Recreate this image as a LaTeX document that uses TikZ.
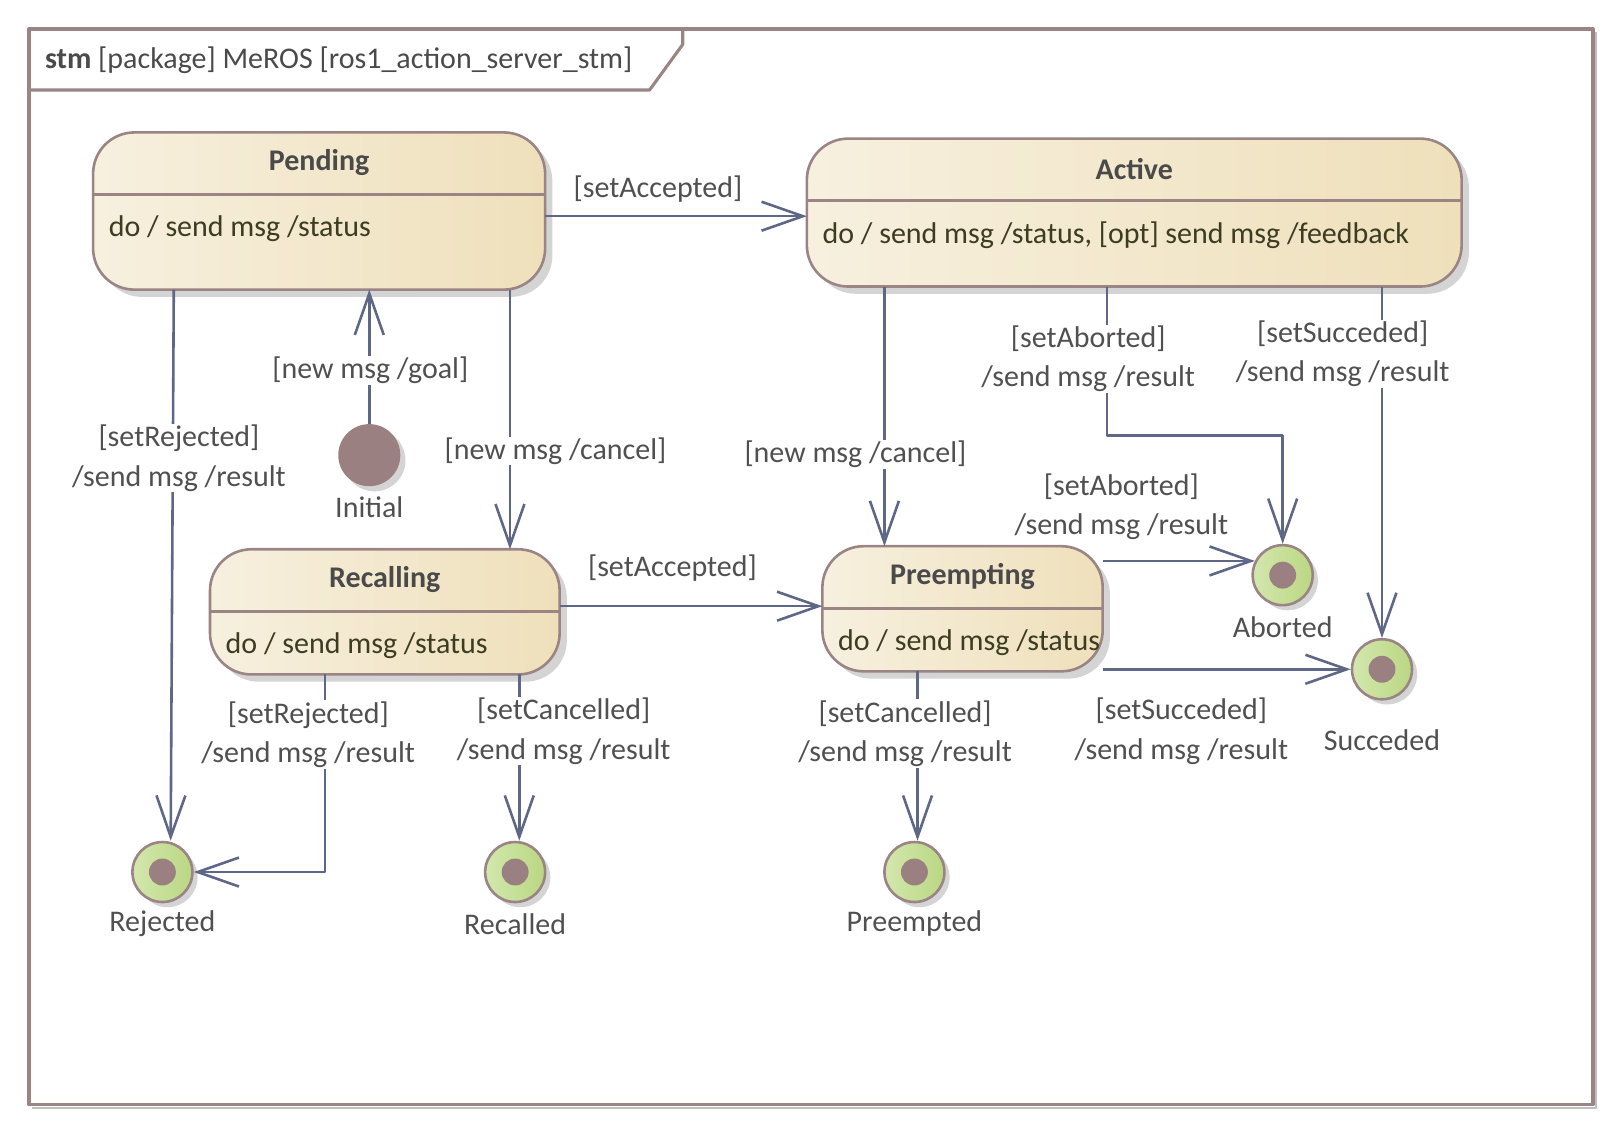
\documentclass[tikz,border=0pt]{standalone}
\usepackage{fontspec}
\setmainfont{Carlito}
\usetikzlibrary{arrows.meta,shadows}

\definecolor{stmline}{HTML}{9A8484}
\definecolor{stmflow}{HTML}{5E6785}
\definecolor{stateL}{HTML}{F7F0DF}
\definecolor{stateR}{HTML}{EFE0BB}
\definecolor{finL}{HTML}{D3E7AE}
\definecolor{finR}{HTML}{BAD782}
\definecolor{stmdot}{HTML}{9A8080}
\definecolor{stmtxt}{HTML}{505050}
\definecolor{stmtitle}{HTML}{4A4A4A}
\definecolor{stmact}{HTML}{3C3C22}

\tikzset{
  flow/.style={draw=stmflow, line width=2.5pt, -{Straight Barb[length=40pt,width=28pt]}},
  statebox/.style={rectangle, rounded corners=40pt, draw=stmline, line width=2.5pt,
    left color=stateL, right color=stateR, outer sep=0pt,
    drop shadow={shadow xshift=7pt,shadow yshift=-7pt,fill=black!17,opacity=1}},
  divider/.style={draw=stmline, line width=2.5pt},
  stitle/.style={text=stmtitle, font=\fontsize{29}{38}\selectfont\bfseries},
  sact/.style={text=stmact, inner sep=0pt},
  lbl/.style={fill=white, inner sep=1pt, align=center, text=stmtxt},
  final/.style={circle, minimum size=58pt, inner sep=0pt, draw=stmline, line width=2.5pt,
    left color=finL, right color=finR,
    drop shadow={shadow xshift=5pt,shadow yshift=-5pt,fill=black!17,opacity=1}},
  startdot/.style={circle, minimum size=60pt, inner sep=0pt, fill=stmdot,
    drop shadow={shadow xshift=5pt,shadow yshift=-5pt,fill=black!17,opacity=1}},
  fname/.style={text=stmtxt},
  frame/.style={draw=stmline, line width=3pt}
}

% name, position, width, height, title, activity
\newcommand{\mstate}[6]{%
  \node[statebox, minimum width=#3pt, minimum height=#4pt] (#1) at (#2) {};
  \draw[divider] ([yshift=-60pt]#1.north west) -- ([yshift=-60pt]#1.north east);
  \node[stitle] (#1-t) at ([yshift=-29pt]#1.north) {#5};
  \node[sact, anchor=west] (#1-a) at ([xshift=15pt,yshift=-93pt]#1.north west) {#6};
}

\begin{document}
\begin{tikzpicture}[x=1pt,y=-1pt,font=\fontsize{29}{38}\selectfont,line join=round]
\useasboundingbox (0,0) rectangle (1569,1096);
\draw[black!25, line width=2pt] (1543,31) -- (1543,1071) -- (31,1071);
\draw[frame] (28,28) rectangle (1540,1068);
\draw[frame] (28,87) -- (628,87) -- (660,43) -- (660,28);
\node[anchor=west, text=stmtitle] (hdr) at (40,58) {\textbf{stm} [package] MeROS [ros1\_action\_server\_stm]};

\mstate{pending}{308.5,204}{437}{152}{Pending}{do / send msg /status}
\mstate{active}{1096.5,205.5}{633}{143}{Active}{do / send msg /status, [opt] send msg /feedback}
\mstate{recalling}{372,591.5}{338}{121}{Recalling}{do / send msg /status}
\mstate{preempting}{930.5,588.5}{271}{121}{Preempting}{do / send msg /status}

\node[startdot] (init) at (357,440) {};
\node[fname] (init-l) at (357,490) {Initial};
\foreach \n/\x/\y/\t/\d in {rej/157/843/Rejected/50, recd/498/843/Recalled/50,
    preed/884/843/Preempted/50, abo/1240/556/Aborted/50, suc/1336/647/Succeded/69}{
  \node[final] (\n) at (\x,\y) {};
  \fill[stmdot] (\n) circle (13pt);
  \node[fname] (\n-l) at ([yshift=-\d*1pt]\n) {\t};
}

\draw[flow] (pending.east |- 0,209) -- (active.west |- 0,209);
\draw[flow] (init) -- (init |- pending.south);
\draw[flow] (pending.south -| 168,0) -- (rej.north -| 165,0);
\draw[flow] (pending.south -| 493,0) -- (recalling.north -| 493,0);
\draw[flow] (recalling.east |- 0,586) -- (preempting.west |- 0,586);
\draw[flow] (recalling.south -| 314,0) |- (rej);
\draw[flow] (recalling.south -| 502,0) -- (recd.north -| 502,0);
\draw[flow] (active.south -| 855,0) -- (preempting.north -| 855,0);
\draw[flow] (active.south -| 1070,0) -- (1070,421) -| (abo);
\draw[flow] (active.south -| suc.north) -- (suc.north);
\draw[flow] (preempting.east |- abo.153) -- (abo.153);
\draw[flow] (preempting.east |- suc.west) -- (suc.west);
\draw[flow] (preempting.south -| 887,0) -- (preed.north -| 887,0);

\node[lbl] (l-acc1) at (636,183) {[setAccepted]};
\node[lbl] (l-goal) at (358,358) {[new msg /goal]};
\node[lbl] (l-rej1) at (173,443) {[setRejected]\\/send msg /result};
\node[lbl] (l-can1) at (537,436) {[new msg /cancel]};
\node[lbl] (l-acc2) at (650,549) {[setAccepted]};
\node[lbl] (l-rej2) at (298,710) {[setRejected]\\/send msg /result};
\node[lbl] (l-cnl1) at (545,707) {[setCancelled]\\/send msg /result};
\node[lbl] (l-can2) at (827,439) {[new msg /cancel]};
\node[lbl] (l-abo1) at (1052,347) {[setAborted]\\/send msg /result};
\node[lbl] (l-suc1) at (1298,342) {[setSucceded]\\/send msg /result};
\node[lbl] (l-abo2) at (1084,490) {[setAborted]\\/send msg /result};
\node[lbl] (l-suc2) at (1142,707) {[setSucceded]\\/send msg /result};
\node[lbl] (l-cnl2) at (875,709) {[setCancelled]\\/send msg /result};
\end{tikzpicture}
\end{document}
